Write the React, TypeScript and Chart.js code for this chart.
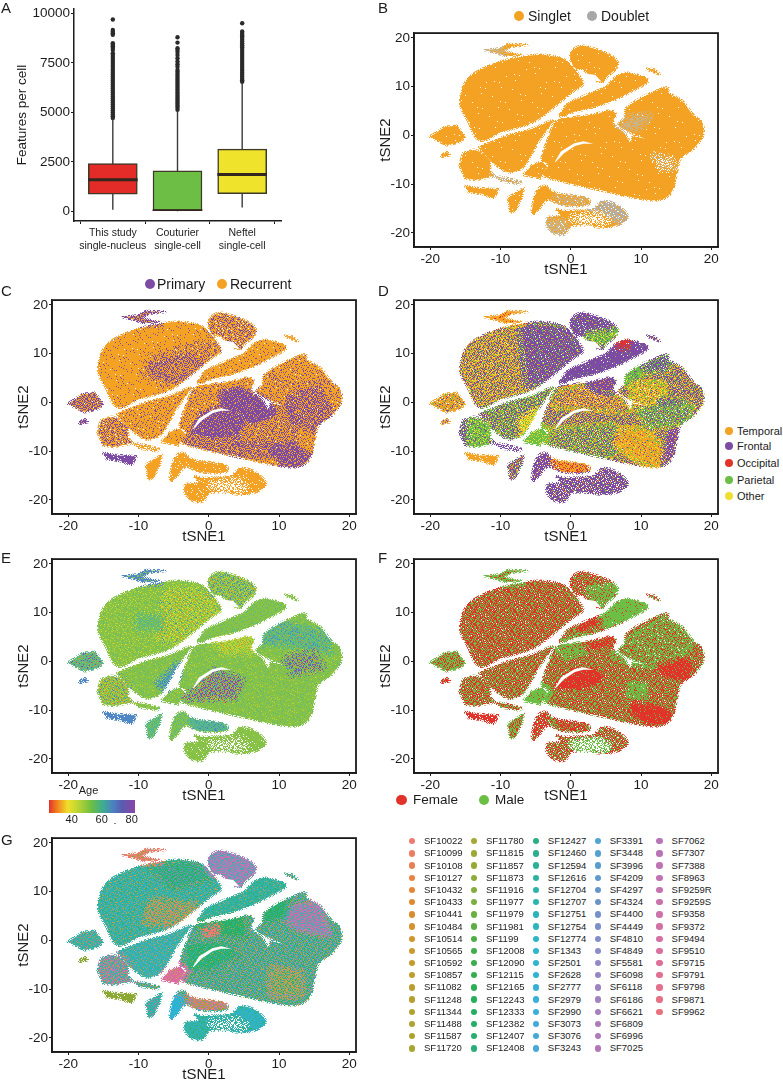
import React, { useEffect, useRef } from "react";
import { Chart, registerables } from "chart.js";
Chart.register(...registerables);

const FONT = "'Liberation Sans', Arial, sans-serif";
const INK = "#1c1c1c";

// ---------- Panel A values ----------
const boxCategories = [["This study", "single-nucleus"], ["Couturier", "single-cell"], ["Neftel", "single-cell"]];
const boxQ1 = [860, 0, 895];
const boxQ3 = [2415, 2040, 3140];
const boxMedian = [1600, 25, 1860];
const whiskerLow = [80, 0, 190];
const whiskerHigh = [4690, 5090, 6500];
const boxColors = ["#E32B27", "#6CBE45", "#F0E32B"];
const outliersStudy = [9700, 9170, 9080, 9000, 8920, 8500, 8420, 8340, 8260, 8160, 7990, 7900, 7800, 7700, 7600, 7500, 7400, 7300, 7200, 7100, 7000, 6900, 6800, 6700, 6600, 6500, 6400, 6300, 6200, 6100, 6000, 5900, 5800, 5700, 5600, 5500, 5400, 5300, 5200, 5100, 5000, 4900, 4800, 4720];
const outliersCouturier = [8800, 8530, 8240, 8150, 8050, 7900, 7740, 7570, 7440, 7310, 7150, 7050, 6950, 6850, 6750, 6650, 6550, 6450, 6350, 6250, 6150, 6050, 5950, 5850, 5750, 5650, 5550, 5450, 5350, 5250, 5130];
const outliersNeftel = [9510, 9090, 9010, 8930, 8850, 8760, 8670, 8580, 8490, 8400, 8300, 8200, 8100, 8000, 7900, 7800, 7700, 7600, 7500, 7400, 7300, 7200, 7100, 7000, 6900, 6800, 6700, 6620, 6550];

// ---------- tSNE island outlines (tSNE1, tSNE2) ----------
type Pt = [number, number];
const blobUpperLeft: Pt[] = [[-15.7,7.4],[-15,10.8],[-13.6,12.8],[-11.2,14.5],[-7.9,15.8],[-4.6,16.5],[-1.3,15.8],[0.2,14.1],[1.35,11.8],[1.7,10.4],[0.4,9.1],[-1.5,6.9],[-3.4,4.6],[-5.5,2.6],[-7.9,1.5],[-10.3,0.5],[-11.7,-0.7],[-12.9,-1],[-13.8,0.3],[-14.5,2.7],[-15.5,5.4]];
const blobTop: Pt[] = [[-0.1,16.2],[0.6,17.8],[1.8,18.3],[4,17.4],[5.9,16.2],[6.7,14.8],[6.3,13.5],[5.1,12],[4.4,10.8],[3,11.8],[1.8,13.5],[0.6,13.8]];
const stripUpper: Pt[] = [[-1.4,4.6],[-0.3,6.6],[1.1,7.5],[3,8.75],[4.9,9.8],[6.3,11.8],[7.8,12.8],[10.1,12.1],[11,11.1],[9.7,9.8],[7.8,8.4],[5.9,7.1],[3,5.7],[0.2,4.7],[-1.3,3.9]];
const blobMain: Pt[] = [[-2,3],[0.6,3.7],[3,4.2],[5.6,5.05],[6.4,4.2],[6,2.4],[7.5,0.7],[8.5,-1.5],[8.9,-0.3],[10.5,-0.7],[8.7,0.5],[6.8,2],[7.7,3.7],[7.9,5.5],[9.7,7.4],[11.6,8.75],[13.7,9.8],[14,8.6],[15.8,7.1],[17.5,4],[18.6,2.8],[18.8,0],[17.5,-2.7],[15.6,-4.7],[15.1,-7.4],[14.5,-11.1],[13.5,-12.8],[11.8,-13.3],[9.2,-12.8],[5.4,-11.6],[1.6,-10.4],[-1.3,-9.4],[-3.9,-8.2],[-3.2,-6.1],[-4.1,-4.7],[-3.2,-0.7]];
const block: Pt[] = [[-6.7,-8.1],[-5.5,-6.1],[-4.1,-5.4],[-3.4,-6.4],[-4.3,-8.8]];
const stripLower: Pt[] = [[-11.5,-1.5],[-8.9,0],[-5.5,1.3],[-2.7,3],[-3.2,1.5],[-4.6,-1.3],[-6.5,-6.1],[-7.9,-7.4],[-9.1,-7.5],[-10.3,-6.4],[-11.5,-5.1],[-12.7,-3],[-12.9,-2.2]];
const blobLeft: Pt[] = [[-15.8,-6.1],[-15.3,-3.7],[-13.8,-3],[-12.7,-3.4],[-11.5,-5.1],[-11.5,-7.4],[-10.8,-8.4],[-13.6,-9.1],[-15,-8.8]];
const connector: Pt[] = [[-10.8,-8.4],[-8.9,-8.8],[-7,-9.6],[-7.4,-10],[-9.8,-9.4]];
const isleBottomLeft: Pt[] = [[-15,-10.4],[-13.6,-10.8],[-10.3,-11.1],[-11,-12.9],[-12.6,-12],[-14.5,-11.6]];
const isleWedge: Pt[] = [[-8.9,-12.8],[-6.7,-10.8],[-7,-12.8],[-7.9,-15.5],[-8.6,-15.8]];
const isleHook: Pt[] = [[-5.5,-15.2],[-4.8,-11.4],[-3.6,-10.4],[-2.2,-11.8],[2.1,-12.8],[2.3,-14.3],[-1.3,-14.3],[-3.2,-13.1],[-4.6,-15.2],[-5.3,-16.2]];
const isleBottom: Pt[] = [[-2,-15.2],[-0.8,-15.5],[3,-15.2],[4.4,-13.6],[6.3,-14.1],[8,-16.2],[7.5,-17.8],[4.9,-18.9],[2.5,-18.5],[0.2,-18.5],[-0.8,-20.2],[-2.2,-20.2],[-3.4,-18.5],[-3.2,-16.8],[-1.5,-16.5]];
const isleTopTiny: Pt[] = [[-12.2,17.5],[-10,17.8],[-8.9,18.7],[-6.2,18.6],[-8.4,18.2],[-9.6,17.2],[-7,16.5],[-9.3,16.3],[-10.8,17]];
const isleLeft: Pt[] = [[-20,-0.3],[-17.9,1.7],[-16.2,1.9],[-15,-0.3],[-15.7,-1.3],[-17.6,-2]];
const isleLeftTiny: Pt[] = [[-18.5,-4.2],[-17.6,-3.4],[-17.2,-4],[-18.1,-4.4]];
const isleRightTiny: Pt[] = [[10.8,13.6],[11.8,13.5],[12.7,12.5],[11.8,13]];
const islands = [blobUpperLeft, blobTop, stripUpper, blobMain, block, stripLower, blobLeft, connector, isleBottomLeft, isleWedge, isleHook, isleBottom, isleTopTiny, isleLeft, isleLeftTiny, isleRightTiny];

// gaps inside the islands
const slitArc: Pt[] = [[-2.3,-5.5],[-1.4,-3.3],[0.5,-1.6],[1.8,-1.2],[3.2,-1.7],[1.8,-1.7],[0.6,-2.2],[-1,-3.7],[-2.1,-5.4]];
const gapTop: Pt[] = [[1.6,12.8],[3.5,12.4],[4.4,11],[3,11.3]];
const gapBottom: Pt[] = [[0.5,-17],[4,-16.6],[5,-17.5],[2,-18]];
const gaps = [slitArc, gapTop];

// ---------- Colours ----------
const O = "#F4A223", P = "#7D4BA3", R = "#E2332B", G = "#6CBE45", Y = "#EFE030", W = "#FFFFFF", T = "#C9B48C", S = "#B5AEA2";
const A1 = "#86C247", A2 = "#BBD334", A3 = "#E9DE2E", A4 = "#56B68C", A5 = "#4F86C6", A6 = "#8A48A8", A7 = "#E9872A";
const G1 = "#35B2A6", G2 = "#2CAE63", G3 = "#C0A050", G4 = "#9A84C4", G5 = "#DB6BA0", G6 = "#2DB4D4", G7 = "#8BA832", G8 = "#EE7B70", G9 = "#5FA8D0";

type Mix = [string, number][];
type Patch = { poly: Pt[]; mix: Mix };
const p = (poly: Pt[], mix: Mix): Patch => ({ poly, mix });

const baseB: Mix = [[O, 99], [W, 1]];
const patchesB: Patch[] = [
  p([[3,-15.2],[4.4,-13.6],[6.3,-14.1],[8,-16.2],[7.5,-17.5],[5.4,-16.8],[3.5,-16.2]], [[S, 75], [O, 15], [W, 10]]),
  p([[7,2],[8.5,3.5],[11,3.8],[10,2],[8,1.2]], [[T, 70], [O, 30]]),
  p([[-3.4,-17.5],[-1,-18],[-0.5,-20.5],[-2,-20.5],[-3.5,-19]], [[T, 70], [O, 25], [W, 5]]),
  p([[-2,-12.8],[2,-13],[2,-14],[-1,-14]], [[T, 55], [O, 40], [W, 5]]),
  p([[12,-4.5],[14,-5],[14.5,-6.5],[13,-6.5]], [[W, 35], [T, 30], [O, 35]]),
  p([[-10.8,-8.4],[-8.9,-8.8],[-7,-9.6],[-7.4,-10],[-9.8,-9.4]], [[T, 60], [W, 25], [O, 15]]),
  p(gapBottom, [[W, 65], [O, 35]]),
  p([[-12.2,17.5],[-10,17.8],[-9.6,17.2],[-10.8,17]], [[T, 70], [O, 30]]),
];

const baseC: Mix = [[O, 78], [P, 21], [W, 1]];
const patchesC: Patch[] = [
  p(blobUpperLeft, [[O, 94], [P, 5], [W, 1]]),
  p([[-8,9],[-3,11],[1,12],[1,9],[-2,6],[-6,4],[-9,6]], [[O, 66], [P, 33], [W, 1]]),
  p([[-8,7],[-3,9],[-1,7],[-5,5]], [[O, 58], [P, 42]]),
  p(blobTop, [[O, 62], [P, 35], [W, 3]]),
  p(stripUpper, [[O, 90], [P, 9], [W, 1]]),
  p([[-4,-6.6],[5,-6],[10,-7],[10,-10.5],[5,-10.5],[0,-10.5],[-3,-9]], [[O, 50], [P, 49], [W, 1]]),
  p([[4.5,-1],[12,-1],[12,-8],[4.5,-8]], [[O, 62], [P, 37], [W, 1]]),
  p([[-1.9,-5.3],[-0.7,-2.9],[1.2,-1.9],[3.1,-2.2],[4.5,-3.9],[3.5,-5.6],[0.7,-6]], [[P, 82], [O, 18]]),
  p([[2.1,1.5],[4.5,2.2],[7.8,0.1],[8.8,-1.9],[6.4,-3.2],[3.5,-1.9],[2.1,-0.5]], [[P, 85], [O, 15]]),
  p([[9.7,-10],[11.6,-9.3],[14,-11.3],[13,-13],[10.7,-12.7]], [[P, 75], [O, 25]]),
  p([[11.6,0.8],[15.4,2.8],[17,-1.9],[14.9,-5.3],[12.1,-3.2]], [[P, 55], [O, 44], [W, 1]]),
  p([[8,7],[14,9.9],[18,5],[11,4]], [[O, 80], [P, 19], [W, 1]]),
  p(isleLeft, [[P, 50], [O, 49], [W, 1]]),
  p(isleLeftTiny, [[P, 85], [O, 15]]),
  p(isleBottomLeft, [[P, 94], [W, 6]]),
  p(isleTopTiny, [[P, 60], [O, 40]]),
  p(blobLeft, [[O, 62], [P, 36], [W, 2]]),
  p(stripLower, [[O, 85], [P, 14], [W, 1]]),
  p(block, [[O, 95], [P, 5]]),
  p(connector, [[O, 70], [W, 30]]),
  p(isleWedge, [[O, 100]]),
  p(isleHook, [[O, 97], [W, 3]]),
  p(isleBottom, [[O, 95], [W, 5]]),
  p(isleRightTiny, [[O, 100]]),
  p(gapBottom, [[W, 60], [O, 40]]),
];

const baseD: Mix = [[P, 46], [O, 22], [G, 20], [Y, 10], [W, 2]];
const patchesD: Patch[] = [
  p(blobUpperLeft, [[O, 33], [P, 34], [Y, 17], [G, 14], [W, 2]]),
  p([[-7,16],[1,15],[2,10],[-3,4],[-6,4]], [[P, 76], [G, 14], [O, 8], [W, 2]]),
  p(blobTop, [[P, 82], [G, 8], [O, 4], [W, 6]]),
  p([[2.5,13.6],[6.3,14.5],[5.5,12.3],[3,12.3]], [[G, 70], [Y, 20], [P, 10]]),
  p(stripUpper, [[P, 93], [G, 4], [W, 3]]),
  p([[7,12.5],[8,12.8],[7.8,11.6],[7,11.7]], [[R, 90], [P, 10]]),
  p([[-1,2],[3,3.5],[7,0.5],[8,-1.5],[3,-1],[-2,-0.5]], [[O, 52], [P, 30], [Y, 8], [G, 8], [W, 2]]),
  p([[2.5,4.3],[6,5.2],[6,2.5],[4,2.6]], [[P, 85], [O, 15]]),
  p([[-3,-6],[6,-5],[8,-8],[5,-11],[-3,-9]], [[G, 38], [P, 34], [O, 15], [Y, 11], [W, 2]]),
  p([[7.3,-5.9],[10.1,-5.9],[13,-9.3],[14.2,-11.3],[12.5,-13.3],[9.7,-11.6],[6.8,-8.6]], [[O, 72], [Y, 14], [G, 6], [P, 8]]),
  p([[13.8,-6],[15.2,-5],[14.5,-11],[13.5,-12.5]], [[P, 78], [O, 14], [W, 8]]),
  p([[8,6],[10.2,6.9],[9.2,4.8],[8.2,4]], [[G, 80], [P, 15], [Y, 5]]),
  p([[9,3.5],[13,3.5],[13,-2],[9,-1]], [[O, 44], [Y, 24], [G, 20], [P, 10], [W, 2]]),
  p([[10.5,7.8],[14,9.8],[13.5,7],[11,6.5]], [[P, 60], [G, 35], [W, 5]]),
  p([[13,0],[15.8,0],[15.8,-2.5],[13,-2.5]], [[P, 72], [G, 26], [O, 2]]),
  p([[10,-2],[17,-1],[16,-4],[11,-4.5]], [[G, 52], [P, 28], [O, 12], [W, 8]]),
  p(stripLower, [[G, 42], [P, 34], [O, 12], [Y, 10], [W, 2]]),
  p([[-7,-4],[-5,-2],[-6.5,-7]], [[Y, 60], [G, 25], [O, 15]]),
  p(block, [[G, 85], [Y, 15]]),
  p(isleLeft, [[O, 70], [P, 14], [G, 12], [W, 4]]),
  p(blobLeft, [[P, 60], [G, 26], [Y, 8], [W, 6]]),
  p([[-14,-4],[-11.5,-5],[-11.5,-8.5],[-14,-8.8]], [[G, 72], [P, 14], [Y, 14]]),
  p(isleBottomLeft, [[O, 96], [W, 4]]),
  p(isleTopTiny, [[O, 85], [R, 15]]),
  p(isleLeftTiny, [[O, 60], [P, 40]]),
  p(isleWedge, [[P, 50], [G, 20], [O, 26], [W, 4]]),
  p(isleHook, [[P, 80], [O, 10], [W, 10]]),
  p([[-2.2,-11.8],[2.1,-12.8],[2.3,-14.3],[-1.3,-14.3]], [[O, 70], [R, 25], [P, 5]]),
  p(isleBottom, [[P, 72], [O, 8], [G, 6], [W, 14]]),
  p(connector, [[P, 60], [W, 40]]),
  p(isleRightTiny, [[P, 70], [O, 30]]),
];

const baseE: Mix = [[A1, 88], [A2, 4], [A4, 8]];
const patchesE: Patch[] = [
  p(blobUpperLeft, [[A1, 82], [A2, 14], [A3, 2], [A4, 2]]),
  p([[-6,14],[1,14],[1,9],[-3,4],[-7,5]], [[A2, 30], [A1, 50], [A3, 10], [A5, 6], [A7, 4]]),
  p([[-10,9],[-7,9],[-7,7],[-10,7]], [[A4, 50], [A1, 50]]),
  p(blobTop, [[A1, 48], [A2, 22], [A5, 16], [A7, 4], [A4, 10]]),
  p(stripUpper, [[A1, 88], [A4, 12]]),
  p([[7.8,6.5],[10,8],[14,6.5],[17,5],[17,2],[12,3.5],[8,4]], [[A4, 62], [A1, 26], [A5, 10], [A7, 2]]),
  p([[-3.1,-7.3],[-1.2,-5.3],[0.7,-2.2],[4.5,-3.9],[3.5,-7.3]], [[A1, 42], [A6, 30], [A5, 18], [A7, 10]]),
  p([[11,0.5],[15,1.5],[16,-1],[12,-2.5]], [[A1, 52], [A6, 24], [A5, 20], [A7, 4]]),
  p([[1,4],[6,5],[6,2],[2,2]], [[A2, 60], [A1, 36], [A7, 4]]),
  p(isleBottomLeft, [[A5, 94], [W, 6]]),
  p(isleTopTiny, [[A5, 72], [A1, 28]]),
  p(isleLeftTiny, [[A5, 94], [W, 6]]),
  p(isleWedge, [[A4, 70], [A1, 30]]),
  p(isleHook, [[A1, 70], [A4, 30]]),
  p([[-2.2,-11.8],[2.1,-12.8],[2.3,-14.3],[-1.3,-14.3]], [[A4, 85], [A5, 15]]),
  p([[-7,-4.5],[-5,-2],[-4.5,-1],[-4.5,-3],[-6,-5.5]], [[A5, 52], [A4, 48]]),
  p(isleLeft, [[A4, 64], [A1, 20], [A6, 10], [A7, 6]]),
  p(blobLeft, [[A1, 58], [A2, 20], [A5, 12], [A7, 10]]),
  p(isleBottom, [[A1, 92], [A2, 4], [W, 4]]),
  p(isleRightTiny, [[A1, 100]]),
  p(gapBottom, [[W, 50], [A1, 50]]),
];

const baseF: Mix = [[R, 52], [G, 46], [W, 2]];
const patchesF: Patch[] = [
  p(blobUpperLeft, [[R, 58], [G, 40], [W, 2]]),
  p(blobTop, [[R, 56], [G, 38], [W, 6]]),
  p([[3,14.5],[6.5,15],[5.5,12.5],[3.5,12.5]], [[G, 80], [R, 20]]),
  p([[-2,-4.6],[0.2,-1.9],[3,-1.5],[4.9,-2.9],[2.5,-5.3],[-1.3,-5.6]], [[R, 94], [G, 6]]),
  p([[8.7,-8.6],[12.5,-9.3],[14.4,-10.6],[13.5,-13],[11.1,-12.7],[8.7,-10.6]], [[R, 95], [G, 5]]),
  p([[11.6,-0.5],[14.9,1.5],[17.3,-0.5],[16.8,-3.9],[13.5,-3.2]], [[R, 90], [G, 10]]),
  p([[3.5,8.2],[6.3,11.6],[9.2,12.9],[10.8,11.6],[8.7,9.9],[4.9,7.9]], [[G, 94], [R, 6]]),
  p([[1,7],[3.2,9],[3.8,8],[1.5,6]], [[R, 90], [G, 10]]),
  p(block, [[G, 95], [R, 5]]),
  p([[6.3,1.5],[10.1,5.5],[13.5,8.2],[17.3,4.9],[15.4,1.5],[11.6,-0.5],[8.7,0.1]], [[G, 66], [R, 32], [W, 2]]),
  p([[-1.7,2.8],[1.6,4.8],[2,2.5],[-0.5,1.4]], [[G, 76], [R, 24]]),
  p([[2.5,3.5],[5.9,5],[5.9,3.5],[3,2.5]], [[R, 85], [G, 15]]),
  p([[8.7,-5.2],[10.2,-5.2],[10.2,-6.6],[8.7,-6.6]], [[G, 80], [R, 20]]),
  p(isleLeft, [[G, 64], [R, 36]]),
  p(isleBottomLeft, [[R, 90], [W, 10]]),
  p(isleTopTiny, [[G, 70], [R, 30]]),
  p(isleLeftTiny, [[R, 80], [G, 20]]),
  p(isleWedge, [[G, 60], [R, 40]]),
  p([[-5.5,-15.2],[-4.8,-11.4],[-3.6,-10.4],[-3.2,-13.1],[-4.6,-15.2]], [[R, 75], [G, 15], [W, 10]]),
  p([[-2.2,-11.8],[2.1,-12.8],[2.3,-14.3],[-1.3,-14.3]], [[R, 70], [G, 28], [W, 2]]),
  p(isleBottom, [[R, 52], [G, 38], [W, 10]]),
  p(gapBottom, [[W, 60], [G, 40]]),
];

const baseG: Mix = [[G1, 30], [G2, 30], [G3, 18], [G4, 12], [G9, 10]];
const patchesG: Patch[] = [
  p(blobUpperLeft, [[G1, 72], [G2, 10], [G3, 10], [G9, 8]]),
  p([[-8,8],[-2,7],[-1.5,4.5],[-5,3],[-9,4]], [[G3, 56], [G1, 26], [G5, 8], [G2, 10]]),
  p([[-8,15],[-2,15.8],[0,13],[-5,11]], [[G2, 50], [G1, 36], [G4, 14]]),
  p(blobTop, [[G4, 52], [G5, 22], [G1, 26]]),
  p(stripUpper, [[G1, 82], [G2, 12], [G3, 6]]),
  p(stripLower, [[G1, 76], [G9, 16], [G3, 8]]),
  p(blobLeft, [[G1, 45], [G5, 25], [G3, 18], [G4, 12]]),
  p([[-1.5,3],[5,5],[5,1],[0,1]], [[G2, 80], [G1, 14], [G3, 6]]),
  p([[-0.2,2],[1,2.5],[1,1.5],[0,1]], [[G8, 86], [G2, 14]]),
  p([[-3,-1],[2,-0.5],[4,-3],[0,-6],[-3,-6]], [[G2, 62], [G1, 34], [G3, 4]]),
  p([[9,-6],[13,-7],[13,-11],[9,-11]], [[G3, 58], [G2, 18], [G1, 24]]),
  p([[10.7,6.2],[15.4,7.5],[16.8,1.5],[13,2.8],[10.7,4.8]], [[G5, 38], [G4, 30], [G1, 32]]),
  p([[8,7],[11,8],[10.5,5],[8,4]], [[G2, 78], [G1, 22]]),
  p(block, [[G5, 88], [G3, 12]]),
  p(isleBottomLeft, [[G7, 96], [W, 4]]),
  p(isleTopTiny, [[G8, 75], [G7, 25]]),
  p(isleLeftTiny, [[G7, 94], [W, 6]]),
  p(isleLeft, [[G1, 80], [G3, 12], [G5, 8]]),
  p(isleWedge, [[G1, 88], [G5, 12]]),
  p([[-5.5,-11.5],[-4,-12],[-4,-15.5],[-5.9,-16]], [[G6, 92], [G1, 8]]),
  p([[-2.6,-11.5],[2.1,-12.8],[2.3,-14.3],[-2,-14.5]], [[G8, 45], [G7, 30], [G4, 25]]),
  p(isleBottom, [[G1, 72], [G2, 14], [G6, 14]]),
  p([[4,-14],[8,-16],[7,-18],[4,-17.5]], [[G6, 50], [G1, 50]]),
  p(gapBottom, [[W, 50], [G1, 50]]),
];

// ---------- Sample legend ----------
const samples = ["SF10022","SF10099","SF10108","SF10127","SF10432","SF10433","SF10441","SF10484","SF10514","SF10565","SF10592","SF10857","SF11082","SF11248","SF11344","SF11488","SF11587","SF11720","SF11780","SF11815","SF11857","SF11873","SF11916","SF11977","SF11979","SF11981","SF1199","SF12008","SF12090","SF12115","SF12165","SF12243","SF12333","SF12382","SF12407","SF12408","SF12427","SF12460","SF12594","SF12616","SF12704","SF12707","SF12751","SF12754","SF12774","SF1343","SF2501","SF2628","SF2777","SF2979","SF2990","SF3073","SF3076","SF3243","SF3391","SF3448","SF3996","SF4209","SF4297","SF4324","SF4400","SF4449","SF4810","SF4849","SF5581","SF6098","SF6118","SF6186","SF6621","SF6809","SF6996","SF7025","SF7062","SF7307","SF7388","SF8963","SF9259R","SF9259S","SF9358","SF9372","SF9494","SF9510","SF9715","SF9791","SF9798","SF9871","SF9962"];
const sampleHueStops = ["#EE7B70","#E2872F","#C99A2E","#B2A02F","#A5A832","#7FAF3E","#3FAE49","#22AE5D","#2BAE85","#2BB5AE","#2DB5CC","#3BAEDC","#4FA3D2","#6B93C8","#8D8CC8","#A67FBC","#B874B5","#C873AE","#DD6F9C","#E8707F"];

function sampleColor(i: number) {
  const t = (i / (samples.length - 1)) * (sampleHueStops.length - 1);
  const a = Math.floor(t), b = Math.min(a + 1, sampleHueStops.length - 1), f = t - a;
  const rgb = (h: string) => [1, 3, 5].map((k) => parseInt(h.slice(k, k + 2), 16));
  const ca = rgb(sampleHueStops[a]), cb = rgb(sampleHueStops[b]);
  return `rgb(${ca.map((v, k) => Math.round(v + (cb[k] - v) * f)).join(",")})`;
}

// ---------- Speckle texture for mixed-colour regions ----------
const grain = ["73019482561738204967","28465103927641085392","91736250488315976024","40582916737029413685","65194038271856320749","18327569040463791852","92640781356120894375","37058214699837256410","84916320575401638297","06273945181269047563","59481067328750193426","23760598142684325910","71849236050917468352","46015783929342106879","80392614758065973241","15627340896481250736","68904152373726849015","32175968041590732684","97541320686213075948","04268795132849561703"];
const patternCache = new Map<string, HTMLCanvasElement>();
function speckle(ctx: CanvasRenderingContext2D, mix: Mix) {
  const key = JSON.stringify(mix);
  let tile = patternCache.get(key);
  if (!tile) {
    tile = document.createElement("canvas");
    tile.width = tile.height = 60;
    const c = tile.getContext("2d")!;
    const total = mix.reduce((s, m) => s + m[1], 0);
    for (let r = 0; r < 60; r++) for (let col = 0; col < 60; col++) {
      const br = Math.floor(r / 20), bc = Math.floor(col / 20);
      const rr = (r + 7 * bc) % 20, cc = (col + 3 * br) % 20;
      const v = (+grain[rr][cc] * 10 + +grain[cc][(rr + 7) % 20]) / 100;
      let acc = 0, color = mix[mix.length - 1][0];
      for (const [cl, w] of mix) { acc += w / total; if (v < acc) { color = cl; break; } }
      if (color !== "none") { c.fillStyle = color; c.fillRect(col, r, 1, 1); }
    }
    patternCache.set(key, tile);
  }
  return ctx.createPattern(tile, "repeat")!;
}

function tracePath(points: any[], smooth: boolean) {
  const path = new Path2D();
  const n = points.length;
  path.moveTo(points[0].x, points[0].y);
  for (let i = 0; i < n; i++) {
    const a = points[i], b = points[(i + 1) % n];
    if (smooth) {
      const z = points[(i - 1 + n) % n], d = points[(i + 2) % n];
      path.bezierCurveTo(a.x + (b.x - z.x) / 6, a.y + (b.y - z.y) / 6, b.x - (d.x - a.x) / 6, b.y - (d.y - a.y) / 6, b.x, b.y);
    } else path.lineTo(b.x, b.y);
  }
  path.closePath();
  return path;
}

const regionPlugin = {
  id: "regions",
  beforeDatasetsDraw(chart: any) {
    const ctx: CanvasRenderingContext2D = chart.ctx;
    const sets = chart.data.datasets.map((d: any, i: number) => ({ d, pts: chart.getDatasetMeta(i).data }));
    const layer = document.createElement("canvas");
    layer.width = chart.canvas.width;
    layer.height = chart.canvas.height;
    const c = layer.getContext("2d")!;
    c.lineJoin = "round";
    for (const { d, pts } of sets) if (d.role === "island") {
      const path = tracePath(pts, pts.length >= 10);
      const fuzzy: Mix = [...d.mix.filter((m: any) => m[0] !== W), ["none", 130]];
      c.strokeStyle = speckle(c, fuzzy);
      c.lineWidth = 3;
      c.stroke(path);
      c.fillStyle = speckle(c, d.mix);
      c.fill(path);
    }
    c.globalCompositeOperation = "source-atop";
    for (const { d, pts } of sets) if (d.role === "patch") {
      const path = tracePath(pts, pts.length >= 10);
      const wide: Mix = [...d.mix, ["none", 140]];
      const near: Mix = [...d.mix, ["none", 50]];
      c.strokeStyle = speckle(c, wide);
      c.lineWidth = 12;
      c.stroke(path);
      c.strokeStyle = speckle(c, near);
      c.lineWidth = 6;
      c.stroke(path);
      c.fillStyle = speckle(c, d.mix);
      c.fill(path);
    }
    c.globalCompositeOperation = "destination-out";
    for (const { d, pts } of sets) if (d.role === "gap") {
      c.fillStyle = "#000";
      c.fill(tracePath(pts, false));
    }
    ctx.save();
    ctx.filter = "blur(0.7px)";
    ctx.drawImage(layer, 0, 0);
    ctx.restore();
  },
  afterDatasetsDraw(chart: any) {
    const { ctx, chartArea: a } = chart;
    ctx.save();
    ctx.strokeStyle = "#1a1a1a";
    ctx.lineWidth = 1.8;
    ctx.strokeRect(a.left, a.top, a.right - a.left, a.bottom - a.top);
    ctx.restore();
  },
};

const ticksOf = (vals: number[]) => (axis: any) => { axis.ticks = vals.map((value) => ({ value })); };

function axisStyle(title: string, fixed: any, size = 13.5, titleSize = 15, titleTop = 0) {
  return {
    type: "linear",
    ...fixed,
    grid: { display: true, drawOnChartArea: false, drawTicks: true, tickLength: 3, color: INK, lineWidth: 1 },
    border: { display: true, color: INK, width: 1.5 },
    ticks: { color: INK, font: { family: FONT, size }, padding: 1, maxRotation: 0, autoSkip: false, callback: (v: number) => String(v) },
    title: { display: !!title, text: title, color: INK, font: { family: FONT, size: titleSize }, padding: { top: titleTop, bottom: 0 } },
  };
}

const tsneTicks = [-20, -10, 0, 10, 20];

function TsnePanel({ left, top, base, patches, holes = gaps }: { left: number; top: number; base: Mix; patches: Patch[]; holes?: Pt[][] }) {
  const ref = useRef<HTMLCanvasElement>(null);
  const padL = 46, padT = 6, w = 304, h = 217;
  useEffect(() => {
    const toData = (poly: Pt[]) => poly.map(([x, y]) => ({ x, y }));
    const hidden = { type: "scatter", showLine: false, pointRadius: 0, pointHoverRadius: 0 };
    const chart = new Chart(ref.current!, {
      type: "scatter",
      data: {
        datasets: [
          ...islands.map((poly) => ({ ...hidden, role: "island", mix: base, data: toData(poly) })),
          ...patches.map((q) => ({ ...hidden, role: "patch", mix: q.mix, data: toData(q.poly) })),
          ...holes.map((poly) => ({ ...hidden, role: "gap", data: toData(poly) })),
        ],
      } as any,
      options: {
        animation: false,
        responsive: false,
        devicePixelRatio: 1,
        events: [],
        layout: { padding: { left: 0, top: padT, right: 6, bottom: 0 } },
        plugins: { legend: { display: false }, tooltip: { enabled: false } },
        scales: {
          x: axisStyle("tSNE1", { min: -22.3, max: 20.95, afterBuildTicks: ticksOf(tsneTicks), afterFit: (a: any) => { a.height = 32; } }),
          y: axisStyle("tSNE2", { min: -22.9, max: 20.97, afterBuildTicks: ticksOf(tsneTicks), afterFit: (a: any) => { a.width = padL; } }, 13.5, 15, 9),
        },
      } as any,
      plugins: [regionPlugin],
    });
    return () => chart.destroy();
  }, []);
  return <canvas ref={ref} width={w + padL + 6} height={h + padT + 32} style={{ position: "absolute", left: left - padL, top: top - padT }} />;
}

function BoxPanel() {
  const ref = useRef<HTMLCanvasElement>(null);
  useEffect(() => {
    const idx = boxCategories.map((_, i) => i + 1);
    const dots = (vals: number[], x: number) => ({ type: "scatter", data: vals.map((y) => ({ x, y })), pointRadius: 2.2, backgroundColor: "#2a2a2a", borderWidth: 0, order: 5 });
    const chart = new Chart(ref.current!, {
      type: "bar",
      data: {
        datasets: [
          ...idx.map((x, i) => ({ type: "scatter", showLine: true, data: [{ x, y: whiskerLow[i] }, { x, y: whiskerHigh[i] }], borderColor: "#3a3a3a", borderWidth: 1.4, pointRadius: 0, order: 4 })),
          dots(outliersStudy, 1), dots(outliersCouturier, 2), dots(outliersNeftel, 3),
          { type: "bar", grouped: false, barThickness: 49, data: idx.map((x, i) => ({ x, y: [boxQ1[i], boxQ3[i]] })), backgroundColor: boxColors, borderColor: "#3d3a26", borderWidth: 1.5, borderSkipped: false, order: 2 },
          { type: "bar", grouped: false, barThickness: 49, data: idx.map((x, i) => ({ x, y: [Math.max(0, boxMedian[i] - 60), boxMedian[i] + 60] })), backgroundColor: "#33261e", order: 1 },
        ],
      } as any,
      options: {
        animation: false,
        responsive: false,
        devicePixelRatio: 1,
        events: [],
        layout: { padding: { left: 0, top: 9, right: 8, bottom: 0 } },
        plugins: { legend: { display: false }, tooltip: { enabled: false } },
        scales: {
          x: {
            ...axisStyle("", { min: 0.4, max: 3.6, offset: false, afterBuildTicks: ticksOf(idx), afterFit: (a: any) => { a.height = 41; } }, 10.5),
            ticks: { color: INK, font: { family: FONT, size: 10.5 }, padding: 3, maxRotation: 0, autoSkip: false, callback: (v: number) => boxCategories[v - 1] },
          },
          y: axisStyle("Features per cell", { min: -491, max: 10223, afterBuildTicks: ticksOf([0, 2500, 5000, 7500, 10000]), afterFit: (a: any) => { a.width = 74; } }, 13.5, 13.5, 14),
        },
      } as any,
    });
    return () => chart.destroy();
  }, []);
  return <canvas ref={ref} width={289} height={262} style={{ position: "absolute", left: 0, top: 0 }} />;
}

function Txt({ x, y, size, children, center }: any) {
  return (
    <span style={{ position: "absolute", left: x, top: y, fontFamily: FONT, fontSize: size, lineHeight: 1, color: INK, whiteSpace: "nowrap", transform: `translate(${center ? "-50%" : "0"},-50%)` }}>
      {children}
    </span>
  );
}
function Dot({ x, y, r, color }: any) {
  return <span style={{ position: "absolute", left: x - r, top: y - r, width: 2 * r, height: 2 * r, borderRadius: "50%", background: color }} />;
}

const panelLetters: [string, number, number][] = [["A", 1, 7], ["B", 378, 7], ["C", 1, 290], ["D", 378, 290], ["E", 1, 557], ["F", 378, 557], ["G", 1, 839]];
const regionLegend: [string, string, number][] = [["Temporal", O, 430.7], ["Frontal", P, 446], ["Occipital", R, 462.7], ["Parietal", G, 479.7], ["Other", Y, 496]];
const ageStops = "linear-gradient(to right,#E5332A,#F0861F 10%,#EFE02A 22%,#B5D334 35%,#6ABD45 50%,#3FAE8F 62%,#4B7FC0 75%,#5A5BB0 85%,#8A45A8 100%)";

export default function App() {
  useEffect(() => { document.body.style.margin = "0"; }, []);
  return (
    <div style={{ position: "relative", width: 783, height: 1084, background: "#fff", overflow: "hidden" }}>
      <BoxPanel />
      <TsnePanel left={414} top={29.5} base={baseB} patches={patchesB} />
      <TsnePanel left={51.7} top={296.7} base={baseC} patches={patchesC} />
      <TsnePanel left={414} top={296.7} base={baseD} patches={patchesD} />
      <TsnePanel left={51.7} top={556.3} base={baseE} patches={patchesE} />
      <TsnePanel left={414} top={556.3} base={baseF} patches={patchesF} />
      <TsnePanel left={51.7} top={835.3} base={baseG} patches={patchesG} />

      {panelLetters.map(([t, x, y]) => <Txt key={t} x={x} y={y} size={15}>{t}</Txt>)}

      <Dot x={519} y={16} r={5} color={O} /><Txt x={528} y={16} size={14}>Singlet</Txt>
      <Dot x={592} y={16} r={5} color="#A8A8A8" /><Txt x={601} y={16} size={14}>Doublet</Txt>

      <Dot x={150} y={284} r={5} color={P} /><Txt x={157} y={284} size={14}>Primary</Txt>
      <Dot x={221.7} y={284} r={5} color={O} /><Txt x={230} y={284} size={14}>Recurrent</Txt>

      {regionLegend.map(([t, c, y]) => (
        <React.Fragment key={t}><Dot x={729} y={y} r={4} color={c} /><Txt x={737} y={y} size={11}>{t}</Txt></React.Fragment>
      ))}

      <Txt x={88.5} y={790} size={11} center>Age</Txt>
      <div style={{ position: "absolute", left: 48.7, top: 800, width: 86, height: 13.3, background: ageStops }} />
      <Txt x={71.7} y={818.7} size={11} center>40</Txt>
      <Txt x={101.7} y={818.7} size={11} center>60</Txt>
      <Txt x={131.7} y={818.7} size={11} center>80</Txt>
      <Txt x={115} y={823} size={8} center>-</Txt>

      <Dot x={401.7} y={800} r={5.3} color={R} /><Txt x={413} y={800} size={13.5}>Female</Txt>
      <Dot x={484} y={800} r={5.3} color={G} /><Txt x={495} y={800} size={13.5}>Male</Txt>

      {samples.map((s, i) => {
        const col = Math.floor(i / 18), row = i % 18;
        const dotX = 412 + col * 61.9, y = 841.3 + row * 12.18;
        return (
          <React.Fragment key={s}>
            <Dot x={dotX} y={y} r={3.2} color={sampleColor(i)} />
            <Txt x={dotX + 12} y={y} size={9.5}>{s}</Txt>
          </React.Fragment>
        );
      })}
    </div>
  );
}
